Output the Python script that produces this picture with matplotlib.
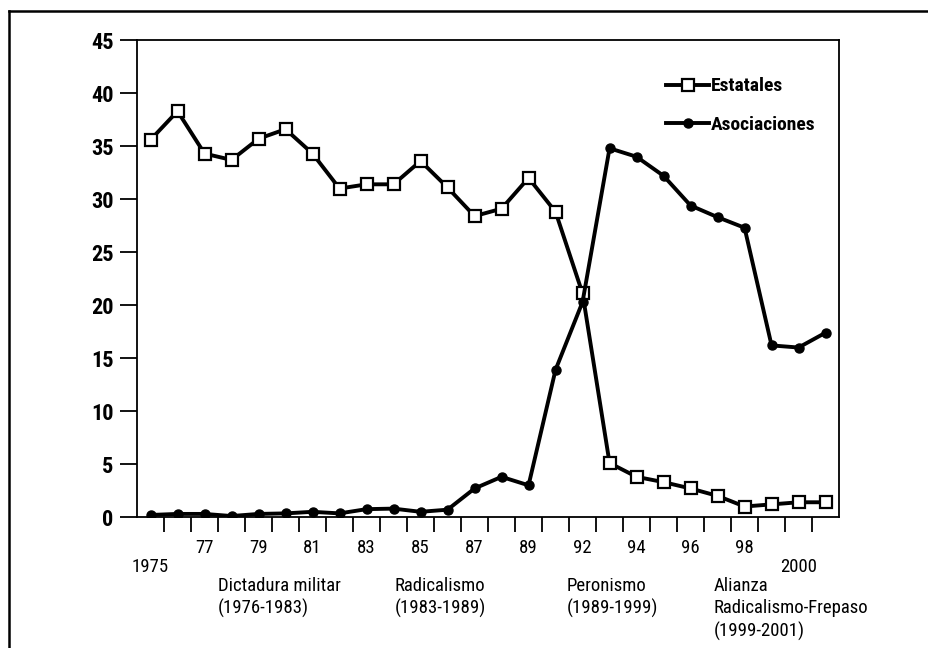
# Estatales vs Asociaciones, 1975-2000
import numpy as np
import matplotlib.pyplot as plt
from matplotlib.lines import Line2D
from matplotlib import font_manager

# prefer a narrow face like the original, otherwise Liberation Sans
names = set(f.name for f in font_manager.fontManager.ttflist)
narrow = [n for n in ['Liberation Sans Narrow', 'Noto Sans Condensed',
                      'Roboto Condensed', 'Open Sans Condensed',
                      'DejaVu Sans Condensed'] if n in names]
plt.rcParams['font.family'] = narrow[:1] + ['Liberation Sans', 'DejaVu Sans']

estatales = [35.6, 38.3, 34.3, 33.7, 35.7, 36.6, 34.3, 31.0, 31.4, 31.4,
             33.6, 31.1, 28.4, 29.1, 32.0, 28.8, 21.1, 5.1, 3.8, 3.3,
             2.7, 2.0, 1.0, 1.2, 1.4, 1.4]
asociaciones = [0.2, 0.3, 0.3, 0.1, 0.3, 0.35, 0.5, 0.35, 0.75, 0.8,
                0.5, 0.7, 2.7, 3.8, 3.0, 13.9, 20.3, 34.8, 34.0, 32.2,
                29.4, 28.3, 27.3, 16.2, 16.0, 17.4]
# tick labels as printed in the source (index -> label, row)
year_labels = {0: ('1975', 1), 2: ('77', 0), 4: ('79', 0), 6: ('81', 0),
               8: ('83', 0), 10: ('85', 0), 12: ('87', 0), 14: ('89', 0),
               16: ('92', 0), 18: ('94', 0), 20: ('96', 0), 22: ('98', 0),
               24: ('2000', 1)}
periodos = ['Dictadura militar\n(1976-1983)',
            'Radicalismo\n(1983-1989)',
            'Peronismo\n(1989-1999)',
            'Alianza\nRadicalismo-Frepaso\n(1999-2001)']
periodo_x = [2.5, 9.05, 15.4, 20.85]

x = np.arange(len(estatales))

fig = plt.figure(figsize=(9.29, 6.48), dpi=100)
ax = fig.add_axes([0.1475, 0.202, 0.7557, 0.736])

ax.plot(x, estatales, color='black', lw=2.8, marker='s', ms=8,
        mfc='white', mec='black', mew=1.6, label='Estatales', zorder=3)
ax.plot(x, asociaciones, color='black', lw=2.8, marker='o', ms=6.5,
        mfc='black', mec='black', label='Asociaciones', zorder=3)

ax.set_xlim(-0.5, len(x) - 0.5)
ax.set_ylim(0, 45)
ax.set_yticks(np.arange(0, 46, 5))
ax.set_xticks(np.arange(0.5, len(x) - 1, 1))
ax.set_xticklabels([])
ax.tick_params(axis='x', direction='out', length=11, width=1.3)
ax.tick_params(axis='y', direction='out', length=12, width=1.3, pad=5)
for lab in ax.get_yticklabels():
    lab.set_fontsize(16)
    lab.set_fontweight('bold')
for s in ax.spines.values():
    s.set_linewidth(1.3)

small = 13.5 if narrow else 11.5
trans = ax.get_xaxis_transform()
for i, (txt, row) in year_labels.items():
    yy = -0.065 if row == 0 else -0.105
    ax.text(i, yy, txt, transform=trans, ha='center', va='center', fontsize=small)
for px, txt in zip(periodo_x, periodos):
    ax.text(px, -0.125, txt, transform=trans, ha='left', va='top',
            fontsize=small, linespacing=1.3)

ax.legend(loc='upper left', bbox_to_anchor=(0.754, 0.922), frameon=False,
          borderpad=0, borderaxespad=0, handlelength=2.2, handletextpad=0.1,
          labelspacing=1.05, prop={'size': 14, 'weight': 'bold'})

# outer frame (only left and top edges are visible)
fig.add_artist(Line2D([0.0097, 0.0097], [0.0, 0.983], color='black', lw=1.8))
fig.add_artist(Line2D([0.0097, 1.0], [0.983, 0.983], color='black', lw=1.8))

fig.savefig('out.png', dpi=100)
